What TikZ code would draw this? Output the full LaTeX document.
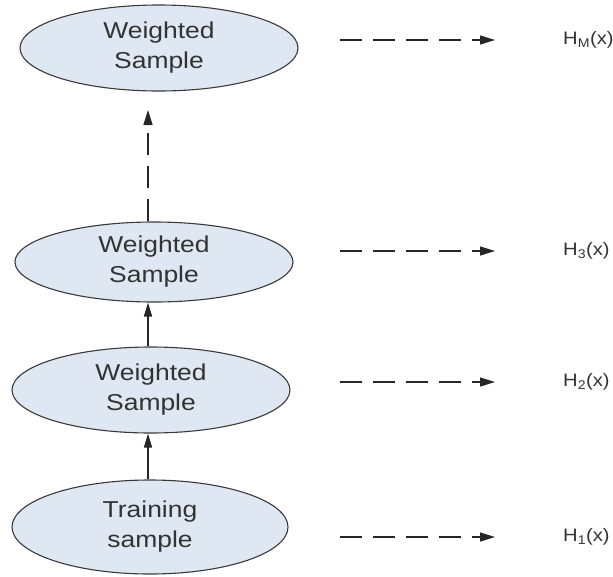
\documentclass[tikz,border=0pt]{standalone}
\usepackage{fontspec}
\setmainfont{Liberation Sans}
\usetikzlibrary{shapes.geometric,arrows.meta}
\definecolor{efill}{HTML}{DFE7F2}
\definecolor{eline}{HTML}{3A3A3A}
\definecolor{txt}{HTML}{333333}
\begin{document}
\begin{tikzpicture}[x=1pt,y=-1pt,
  sample/.style={ellipse,draw=eline,line width=1.1pt,fill=efill,inner sep=0pt,
    minimum width=278pt,text=txt,align=center,
    font=\fontsize{23}{30}\selectfont,xscale=1,
    execute at begin node={\pgftransformxscale{1}}},
  hlab/.style={anchor=west,inner sep=0pt,text=txt,font=\fontsize{18}{20}\selectfont},
  hdash/.style={draw=black!85,line width=1.4pt,dash pattern=on 22pt off 11pt,
    -{Triangle[length=15pt,width=9pt]}},
  vsolid/.style={draw=black!85,line width=1.6pt,-{Triangle[length=14pt,width=8pt]}},
  vdash/.style={draw=black!85,line width=1.4pt,dash pattern=on 22pt off 11pt,
    -{Triangle[length=15pt,width=9pt]}}]
\useasboundingbox (0,0) rectangle (613,576);
\fill[white] (0,0) rectangle (613,576);
\coordinate (ax) at (148,0);
\node[sample,minimum height=86pt] (wm) at (159,48) {\scalebox{1.15}[1]{Weighted}\\\scalebox{1.15}[1]{Sample}};
\node[sample,minimum height=80pt] (w3) at (154,262) {\scalebox{1.15}[1]{Weighted}\\\scalebox{1.15}[1]{Sample}};
\node[sample,minimum height=86pt] (w2) at (151,390) {\scalebox{1.15}[1]{Weighted}\\\scalebox{1.15}[1]{Sample}};
\node[sample,minimum height=94pt,minimum width=276pt] (tr) at (150,527) {\scalebox{1.15}[1]{Training}\\\scalebox{1.15}[1]{sample}};
\coordinate (vtip) at (148,110);
\draw[vsolid] (tr.north -| ax) -- (w2.south -| ax);
\draw[vsolid] (w2.north -| ax) -- (w3.south -| ax);
\draw[vdash] (w3.north -| ax) -- (vtip);
\node[hlab] (hm) at (563,40) {\scalebox{1.12}[1]{H\textsubscript{M}(x)}};
\node[hlab] (h3) at (563,251) {\scalebox{1.12}[1]{H\textsubscript{3}(x)}};
\node[hlab] (h2) at (563,382) {\scalebox{1.12}[1]{H\textsubscript{2}(x)}};
\node[hlab] (h1) at (563,537) {\scalebox{1.12}[1]{H\textsubscript{1}(x)}};
\foreach \h/\y in {hm/40,h3/251,h2/382,h1/537}{
  \coordinate (s\h) at (340,\y);
  \coordinate (e\h) at (495,\y);
  \draw[hdash] (s\h) -- (e\h);
}
\end{tikzpicture}
\end{document}
